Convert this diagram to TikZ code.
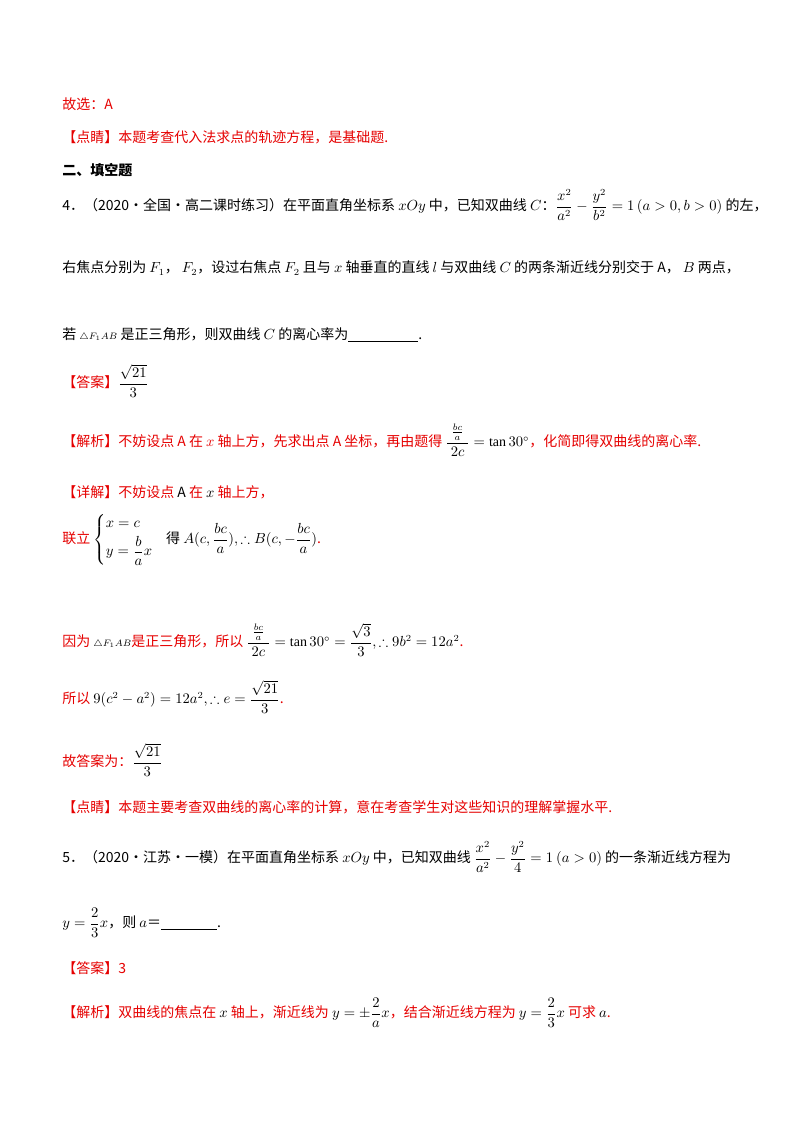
\documentclass[tikz,border=0pt]{standalone}
\usepackage{fontspec}
\usepackage{amsmath,amssymb}
\setmainfont{Liberation Serif}
\newfontfamily\cjk{Noto Sans CJK SC}
\definecolor{rd}{RGB}{230,0,0}
\begin{document}
\begin{tikzpicture}[x=0.75pt,y=-0.75pt,
  ln/.style={anchor=west,inner sep=0pt,font=\fontsize{10.5}{12}\selectfont},
  rl/.style={ln,text=rd}]
\useasboundingbox (0,0) rectangle (800,1132);
\fill[white] (0,0) rectangle (800,1132);
\node[rl] (l1) at (62,104) {\cjk 故选：A};
\node[rl] (l2) at (62,137) {\cjk 【点睛】本题考查代入法求点的轨迹方程，是基础题.};
\node[ln] (l3) at (62,170) {\cjk\bfseries 二、填空题};
\node[ln] (l4) at (62,205) {\cjk 4．（2020·全国·高二课时练习）在平面直角坐标系 $xOy$ 中，已知双曲线 $C$：$\dfrac{x^2}{a^2}-\dfrac{y^2}{b^2}=1\left(a>0,b>0\right)$ 的左，};
\node[ln] (l5) at (62,268) {\cjk 右焦点分别为 $F_1$， $F_2$，设过右焦点 $F_2$ 且与 $x$ 轴垂直的直线 $l$ 与双曲线 $C$ 的两条渐近线分别交于 A， $B$ 两点，};
\node[ln] (l6) at (62,335) {\cjk 若 $\scriptstyle\triangle F_1AB$ 是正三角形，则双曲线 $C$ 的离心率为\underline{\hspace{5em}}.};
\node[ln] (l7) at (62,381) {{\cjk\color{rd}【答案】}$\dfrac{\sqrt{21}}{3}$};
\node[rl] (l8) at (62,440) {\cjk 【解析】不妨设点 A 在 $x$ 轴上方，先求出点 A 坐标，再由题得 {\color{black}$\dfrac{\;\frac{bc}{a}\;}{2c}=\tan30^\circ$}，化简即得双曲线的离心率.};
\node[rl] (l9) at (62,492) {\cjk 【详解】不妨设点 {\color{black}A} 在 {\color{black}$x$} 轴上方，};
\node[rl] (l10) at (62,540) {\cjk 联立 {\color{black}$\begin{cases}x=c\\[2pt] y=\dfrac{b}{a}x\end{cases}\!\!$ 得 $A(c,\dfrac{bc}{a}),\therefore B(c,-\dfrac{bc}{a})$}.};
\node[rl] (l11) at (62,640) {\cjk 因为 {\color{black}$\scriptstyle\triangle F_1AB$}是正三角形，所以 {\color{black}$\dfrac{\;\frac{bc}{a}\;}{2c}=\tan30^\circ=\dfrac{\sqrt3}{3},\therefore 9b^2=12a^2$}.};
\node[rl] (l12) at (62,697) {\cjk 所以 {\color{black}$9(c^2-a^2)=12a^2,\therefore e=\dfrac{\sqrt{21}}{3}$}.};
\node[rl] (l13) at (62,760) {\cjk 故答案为：{\color{black}$\dfrac{\sqrt{21}}{3}$}};
\node[rl] (l14) at (62,807) {\cjk 【点睛】本题主要考查双曲线的离心率的计算，意在考查学生对这些知识的理解掌握水平.};
\node[ln] (l15) at (62,857) {\cjk 5．（2020·江苏·一模）在平面直角坐标系 $xOy$ 中，已知双曲线 $\dfrac{x^2}{a^2}-\dfrac{y^2}{4}=1$ $(a>0)$ 的一条渐近线方程为};
\node[ln] (l16) at (62,923) {\cjk $y=\dfrac{2}{3}x$，则 $a$＝\underline{\hspace{4em}}.};
\node[rl] (l17) at (62,968) {\cjk 【答案】3};
\node[rl] (l18) at (62,1013) {\cjk 【解析】双曲线的焦点在 {\color{black}$x$} 轴上，渐近线为 {\color{black}$y=\pm\dfrac{2}{a}x$}，结合渐近线方程为 {\color{black}$y=\dfrac{2}{3}x$} 可求 {\color{black}$a$}.};
\end{tikzpicture}
\end{document}
